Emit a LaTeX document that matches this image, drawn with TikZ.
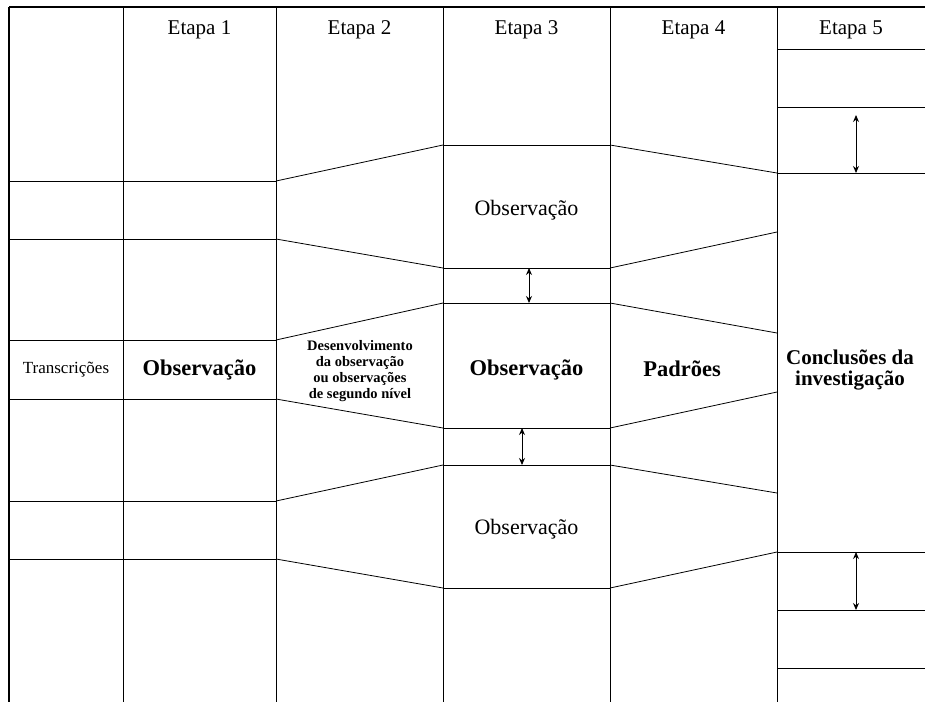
\documentclass[tikz,border=0pt]{standalone}
\usepackage{fontspec}
\setmainfont{Liberation Serif}
\usetikzlibrary{arrows.meta}
\begin{document}
\begin{tikzpicture}[x=1pt,y=-1pt,
  ln/.style={line width=0.8pt,black},
  frame/.style={line width=1.4pt,black},
  dbl/.style={line width=0.9pt,{Stealth[length=7pt,width=6pt]}-{Stealth[length=7pt,width=6pt]}},
  head/.style={font=\fontsize{21}{24}\selectfont,anchor=center},
  plain/.style={font=\fontsize{22}{25}\selectfont,anchor=center},
  boldtxt/.style={font=\fontsize{22.5}{25}\selectfont\bfseries,anchor=center},
  small/.style={font=\fontsize{14.5}{17}\selectfont\bfseries,align=center,anchor=center},
  concl/.style={font=\fontsize{21}{21}\selectfont\bfseries,align=center,anchor=center}]
\useasboundingbox (0,0) rectangle (925,702);
% frame
\draw[frame] (9,7) -- (925,7);
\draw[frame] (9,7) -- (9,702);
% column lines
\foreach \x in {123,276,443,610,777} \draw[ln] (\x,7) -- (\x,702);
% stage 5 horizontal lines
\foreach \y in {49,107,173,552,610,668} \draw[ln] (777,\y) -- (925,\y);
% columns 0-1 rows
\foreach \y in {181,239,340,399,501,559} \draw[ln] (9,\y) -- (276,\y);
% stage 3 boxes
\foreach \y in {145,268,303,428,465,588} \draw[ln] (443,\y) -- (610,\y);
% stage 2 slanted lines
\draw[ln] (276,181) -- (443,145);
\draw[ln] (276,239) -- (443,268);
\draw[ln] (276,340) -- (443,303);
\draw[ln] (276,399) -- (443,428);
\draw[ln] (276,501) -- (443,465);
\draw[ln] (276,559) -- (443,588);
% stage 4 slanted lines
\draw[ln] (610,145) -- (777,173);
\draw[ln] (610,268) -- (777,232);
\draw[ln] (610,303) -- (777,333);
\draw[ln] (610,428) -- (777,392);
\draw[ln] (610,465) -- (777,493);
\draw[ln] (610,588) -- (777,552);
% arrows
\coordinate (a1t) at (856,115); \coordinate (a1b) at (856,173);
\coordinate (a2t) at (529,268); \coordinate (a2b) at (529,303);
\coordinate (a3t) at (522,428); \coordinate (a3b) at (522,465);
\coordinate (a4t) at (856,552); \coordinate (a4b) at (856,610);
\draw[dbl] (a1t) -- (a1b);
\draw[dbl] (a2t) -- (a2b);
\draw[dbl] (a3t) -- (a3b);
\draw[dbl] (a4t) -- (a4b);
% headers
\node[head] (e1) at (199.5,30) {Etapa 1};
\node[head] (e2) at (359.5,30) {Etapa 2};
\node[head] (e3) at (526.5,30) {Etapa 3};
\node[head] (e4) at (693.5,30) {Etapa 4};
\node[head] (e5) at (851,30) {Etapa 5};
% texts
\node[font=\fontsize{17}{20}\selectfont] (tr) at (66,370) {Transcrições};
\node[boldtxt] (ob1) at (199.5,370) {Observação};
\node[small] (dev) at (360,371) {Desenvolvimento\\[-1pt]da observação\\[-1pt]ou observações\\[-1pt]de segundo nível};
\node[plain] (ob3a) at (526.5,210) {Observação};
\node[boldtxt] (ob3b) at (526.5,370) {Observação};
\node[plain] (ob3c) at (526.5,529) {Observação};
\node[boldtxt] (pad) at (682,369) {Padrões};
\node[concl] (con) at (850,370) {Conclusões da\\investigação};
\end{tikzpicture}
\end{document}
